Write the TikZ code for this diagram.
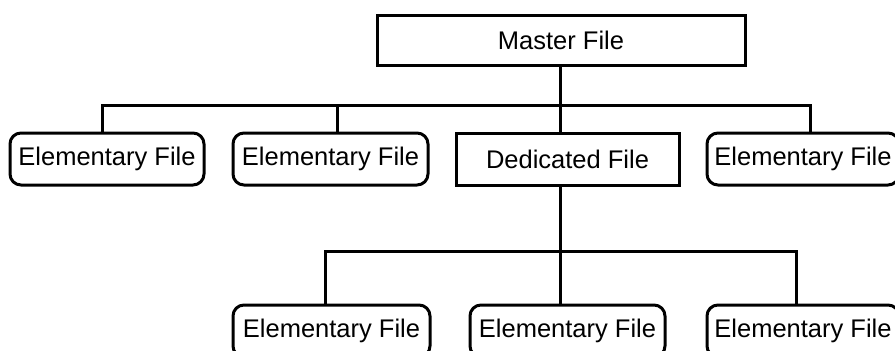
\documentclass[tikz,border=0pt]{standalone}
\usepackage{fontspec}
\setmainfont{Liberation Sans}
\begin{document}
\begin{tikzpicture}[x=1pt,y=-1pt,
  box/.style={draw=black,line width=3pt,fill=white,inner sep=0pt,font=\fontsize{25.5}{28}\selectfont},
  sqbox/.style={box},
  rbox/.style={box,rounded corners=11pt},
  link/.style={line width=3pt,line join=miter}]
\useasboundingbox (0,0) rectangle (895,351);
\clip (0,0) rectangle (895,351);
% level 0
\node[sqbox,minimum width=368pt,minimum height=50pt] (master) at (561,40) {Master File};
% level 1
\node[rbox,minimum width=194pt,minimum height=52pt] (e1) at (107,159) {Elementary File};
\node[rbox,minimum width=195pt,minimum height=52pt] (e2) at (330.5,159) {Elementary File};
\node[sqbox,minimum width=223pt,minimum height=52pt] (ded) at (567.5,159) {Dedicated File};
\node[rbox,minimum width=192pt,minimum height=52pt] (e3) at (803,159) {Elementary File};
% level 2
\node[rbox,minimum width=197pt,minimum height=52pt] (e4) at (331.5,331) {Elementary File};
\node[rbox,minimum width=195pt,minimum height=52pt] (e5) at (567.5,331) {Elementary File};
\node[rbox,minimum width=192pt,minimum height=52pt] (e6) at (803,331) {Elementary File};
% buses
\coordinate (j1) at (560,105);
\coordinate (b1L) at (102,105);
\coordinate (b1M) at (337,105);
\coordinate (b1R) at (810,105);
\coordinate (j2) at (560,251);
\coordinate (b2L) at (325,251);
\coordinate (b2R) at (796,251);
\draw[link] (master.south -| j1) -- (j1);
\draw[link] (b1L |- e1.north) -- (b1L) -- (b1R) -- (b1R |- e3.north);
\draw[link] (b1M) -- (b1M |- e2.north);
\draw[link] (j1) -- (j1 |- ded.north);
\draw[link] (ded.south -| j2) -- (j2);
\draw[link] (b2L |- e4.north) -- (b2L) -- (b2R) -- (b2R |- e6.north);
\draw[link] (j2) -- (j2 |- e5.north);
\end{tikzpicture}
\end{document}
